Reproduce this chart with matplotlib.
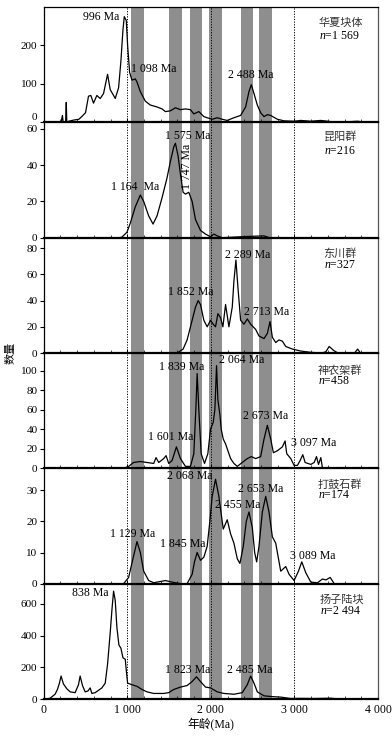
import matplotlib
matplotlib.use("Agg")
import matplotlib.pyplot as plt
import numpy as np

plt.rcParams['font.family'] = ['Liberation Serif', 'Noto Sans CJK SC']
plt.rcParams['mathtext.fontset'] = 'custom'
plt.rcParams['mathtext.it'] = 'Liberation Serif:italic'
plt.rcParams['mathtext.rm'] = 'Liberation Serif'

# ---------------- data ----------------
names = ["华夏块体", "昆阳群", "东川群", "神农架群", "打鼓石群", "扬子陆块"]
counts = ["1 569", "216", "327", "458", "174", "2 494"]
ymax = [300, 63.5, 88, 118, 37, 727]
yticks = [[0, 100, 200], [0, 20, 40, 60], [0, 20, 40, 60, 80],
          [0, 20, 40, 60, 80, 100], [0, 10, 20, 30], [0, 200, 400, 600]]

bands = [(1050, 1200), (1500, 1650), (1750, 1900), (1980, 2130), (2360, 2510), (2580, 2730)]
ref_lines = [1000, 2000, 3000]

age1 = [0, 180, 210, 224, 232, 262, 270, 276, 284, 300, 360, 420, 456, 500, 536, 564, 596, 636, 676,
        716, 764, 796, 836, 856, 896, 924, 948, 964, 988, 1004, 1028, 1056, 1096, 1116, 1156, 1216,
        1276, 1356, 1416, 1456, 1516, 1576, 1636, 1696, 1756, 1796, 1856, 1916, 1956, 2016, 2076,
        2136, 2196, 2276, 2356, 2416, 2456, 2484, 2516, 2556, 2596, 2636, 2676, 2716, 2796, 2876,
        2996, 3076, 3196, 3316, 3476, 3600, 3756, 3850, 4000]
val1 = [0, 0, 2, 18, 2, 0, 52, 2, 0, 3, 6, 8, 15, 25, 68, 70, 50, 70, 62,
        75, 125, 85, 70, 62, 90, 160, 240, 275, 265, 200, 130, 110, 113, 105, 80, 55,
        45, 40, 35, 28, 30, 38, 33, 35, 33, 22, 28, 15, 12, 8, 12,
        8, 5, 12, 18, 40, 80, 98, 75, 45, 25, 15, 20, 18, 8, 4,
        3, 5, 3, 5, 1, 1, 3, 0, 0]

age2 = [0, 900, 936, 996, 1036, 1096, 1156, 1196, 1256, 1308, 1356, 1416, 1476, 1516, 1556, 1576,
        1608, 1636, 1668, 1696, 1736, 1776, 1816, 1876, 1936, 1996, 2036, 2076, 2136, 2356, 2516,
        2636, 2700, 4000]
val2 = [0, 0, 0.3, 3, 8, 17, 23.5, 20, 12, 7.5, 12, 22, 33, 42, 50, 52,
        45, 35, 25, 24, 25, 20, 10, 4, 2, 0.5, 2, 1, 0, 0.5, 0.8,
        1, 0, 0]

age3 = [0, 1596, 1668, 1716, 1776, 1816, 1848, 1876, 1916, 1956, 1996, 2028, 2056, 2084, 2116,
        2144, 2176, 2216, 2256, 2276, 2300, 2324, 2356, 2396, 2436, 2476, 2536, 2576, 2636, 2676,
        2708, 2736, 2776, 2816, 2856, 2896, 2976, 3076, 3200, 3330, 3376, 3416, 3468, 3520, 3720,
        3756, 3790, 4000]
val3 = [0, 0, 3, 10, 25, 35, 40, 37, 25, 20, 25, 22, 20, 30, 27,
        20, 37, 20, 35, 55, 71, 50, 25, 22, 26, 22, 18, 13, 11, 15,
        24, 12, 8, 10, 9, 5, 3, 1.5, 0.5, 0, 1, 5, 2, 0, 0,
        3, 0, 0]

age4 = [0, 956, 1016, 1076, 1156, 1236, 1316, 1344, 1376, 1436, 1464, 1496, 1536, 1588, 1636, 1696,
        1756, 1796, 1820, 1836, 1856, 1884, 1924, 1964, 1996, 2028, 2048, 2068, 2084, 2108, 2124,
        2148, 2176, 2196, 2236, 2276, 2316, 2376, 2436, 2484, 2536, 2596, 2636, 2676, 2716, 2748,
        2796, 2856, 2888, 2908, 2956, 2996, 3036, 3068, 3100, 3128, 3196, 3236, 3264, 3288, 3316,
        3336, 4000]
val4 = [0, 0, 2, 6, 7, 6, 5, 11, 6, 10, 13, 5, 8, 22, 10, 2,
        2, 15, 60, 97, 60, 15, 5, 15, 40, 47, 60, 105, 70, 55, 40,
        30, 25, 20, 10, 5, 2, 6, 10, 12, 10, 12, 30, 44, 30, 16,
        18, 22, 28, 15, 10, 3, 3, 8, 14, 6, 4, 6, 12, 4, 11,
        0, 0]

age5 = [0, 956, 1016, 1068, 1116, 1156, 1196, 1256, 1316, 1456, 1536, 1636, 1716, 1776, 1804, 1836,
        1876, 1916, 1956, 1988, 2016, 2056, 2096, 2148, 2196, 2236, 2276, 2316, 2348, 2388, 2424,
        2456, 2496, 2524, 2548, 2576, 2616, 2656, 2696, 2736, 2776, 2836, 2896, 2936, 2996, 3048,
        3088, 3136, 3196, 3276, 3336, 3376, 3428, 3476, 4000]
val5 = [0, 0, 2, 8, 13.5, 10, 4, 1, 0.3, 1, 0.5, 0, 0, 3, 7, 10,
        7.5, 8.5, 12, 20, 28, 33.5, 28, 17.5, 20.5, 16, 13, 8, 6.5, 12, 20,
        23, 18, 10, 7, 12, 23, 28, 23, 15, 13, 4, 5.5, 3, 1, 4,
        7, 3.5, 0.5, 0.3, 1.5, 1.2, 2, 0, 0]

age6 = [0, 36, 76, 136, 164, 188, 208, 236, 276, 316, 376, 416, 436, 464, 496, 528, 556, 576, 616,
        656, 696, 736, 764, 796, 816, 836, 856, 876, 900, 924, 948, 976, 988, 1004, 1056, 1116,
        1176, 1236, 1316, 1436, 1496, 1556, 1636, 1716, 1776, 1828, 1876, 1936, 1996, 2076, 2156,
        2276, 2376, 2436, 2476, 2516, 2556, 2636, 2736, 2836, 2956, 3076, 3236, 3436, 3516, 3600,
        4000]
val6 = [0, 0, 5, 30, 60, 100, 145, 95, 65, 45, 40, 90, 145, 85, 45, 50, 70, 35, 40,
        55, 70, 100, 220, 420, 560, 680, 620, 450, 340, 320, 260, 250, 180, 100, 90, 80,
        60, 45, 35, 35, 40, 60, 75, 85, 110, 140, 110, 75, 70, 45, 35,
        30, 40, 90, 145, 100, 45, 20, 15, 12, 3, 4, 3, 5, 1, 0,
        0]

ages = [age1, age2, age3, age4, age5, age6]
vals = [val1, val2, val3, val4, val5, val6]

# annotations: (text, x, y, ha, rotation)
annots = [
    [("996 Ma", 910, 275, "right", 0), ("1 098 Ma", 1316, 139, "center", 0),
     ("2 488 Ma", 2472, 124, "center", 0)],
    [("1 575 Ma", 1728, 56, "center", 0), ("1 747 Ma", 1716, 39, "center", 90),
     ("1 164  Ma", 1088, 27.7, "center", 0)],
    [("2 289 Ma", 2436, 74.8, "center", 0), ("1 852 Ma", 1764, 46.5, "center", 0),
     ("2 713 Ma", 2664, 31.4, "center", 0)],
    [("1 839 Ma", 1656, 104, "center", 0), ("2 064 Ma", 2364, 111, "center", 0),
     ("2 673 Ma", 2652, 53.5, "center", 0), ("1 601 Ma", 1520, 31.6, "center", 0),
     ("3 097 Ma", 3236, 26, "center", 0)],
    [("2 068 Ma", 1744, 34.7, "center", 0), ("2 653 Ma", 2596, 30.4, "center", 0),
     ("2 455 Ma", 2316, 25.4, "center", 0), ("1 129 Ma", 1060, 16, "center", 0),
     ("1 845 Ma", 1660, 12.8, "center", 0), ("3 089 Ma", 3224, 8.9, "center", 0)],
    [("838 Ma", 776, 671, "right", 0), ("1 823 Ma", 1724, 184, "center", 0),
     ("2 485 Ma", 2468, 184, "center", 0)],
]
name_pos = [(3290, 0.86, 0.75), (3350, 0.875, 0.755), (3350, 0.86, 0.765),
            (3280, 0.85, 0.755), (3280, 0.86, 0.765), (3300, 0.86, 0.765)]

# ---------------- figure ----------------
fig, axes = plt.subplots(6, 1, figsize=(3.92, 7.4), dpi=100, sharex=True)
fig.subplots_adjust(left=0.1115, right=0.9643, top=0.9905, bottom=0.0554, hspace=0)

for i, ax in enumerate(axes):
    for b0, b1 in bands:
        ax.axvspan(b0, b1, color="#8e8e8e", lw=0, zorder=1)
    for xv in ref_lines:
        ax.axvline(xv, color="black", ls=(0, (1.2, 1.5)), lw=0.7, zorder=2)
    ax.plot(ages[i], vals[i], color="black", lw=0.9, zorder=3)
    ax.set_xlim(0, 4000)
    ax.set_ylim(0, ymax[i])
    ax.set_yticks(yticks[i])
    ax.tick_params(axis="y", direction="out", length=3, width=0.8, labelsize=8, pad=1.5)
    ax.set_xticks([0, 1000, 2000, 3000, 4000])
    ax.set_xticks(np.arange(0, 4001, 200), minor=True)
    ax.tick_params(axis="x", which="major", direction="in", length=3, width=0.7, labelsize=8.5)
    ax.tick_params(axis="x", which="minor", direction="in", length=2, width=0.5)
    for s in ["left", "top"]:
        ax.spines[s].set_linewidth(0.9)
    ax.spines["right"].set_linewidth(0.9)
    ax.spines["right"].set_color("#555555")
    ax.spines["bottom"].set_linewidth(1.6)
    for txt, x, y, ha, rot in annots[i]:
        ax.text(x, y, txt, ha=ha, va="center", rotation=rot, fontsize=8.5, zorder=4)
    nx, ny1, ny2 = name_pos[i]
    ax.text(nx, ny1 * ymax[i], names[i], ha="left", va="center", fontsize=8,
            family=["Noto Sans CJK SC"], color="#333333", zorder=4)
    ax.text(nx, ny2 * ymax[i], "$n$=" + counts[i], ha="left", va="center", fontsize=8.5, zorder=4)

axes[0].get_yticklabels()[0].set_va("bottom")
axes[-1].set_xticklabels(["0", "1 000", "2 000", "3 000", "4 000"])
axes[-1].set_xlabel("年龄(Ma)", fontsize=8.5, labelpad=2,
                    family=["Liberation Serif", "Noto Sans CJK SC"])
fig.text(0.028, 0.523, "数量", rotation=90, ha="center", va="center", fontsize=8,
         family=["Noto Sans CJK SC"])

fig.savefig("out.png", dpi=100)
